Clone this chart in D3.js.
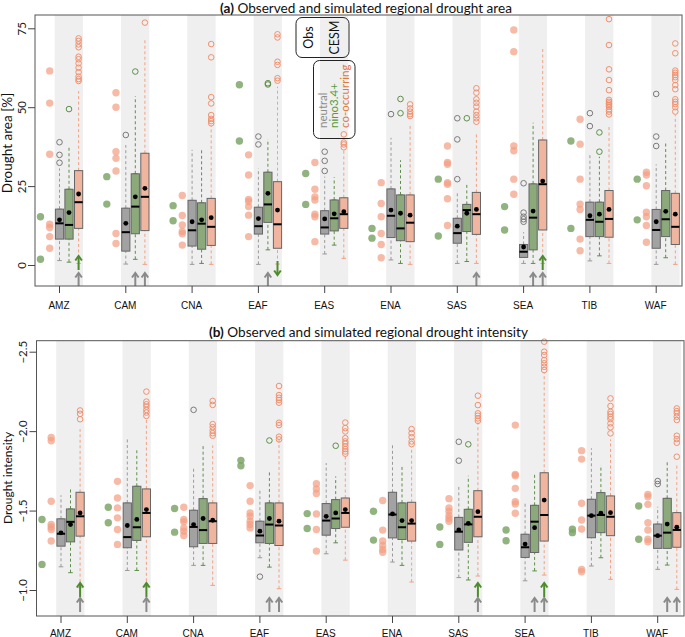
<!DOCTYPE html>
<html><head><meta charset="utf-8">
<script src="https://cdn.jsdelivr.net/npm/d3@7/dist/d3.min.js"></script>
<style>body{margin:0;background:#fff}svg{display:block}</style>
</head><body><svg id="c" width="685" height="637"></svg>
<script>
const regions = ["AMZ","CAM","CNA","EAF","EAS","ENA","SAS","SEA","TIB","WAF"];
const groups = ["neutral","nino","cooc"];
const legendObs = ["Obs","CESM"];
const legendGroups = ["neutral","nino3.4+","co-occurring"];

// ---------- (a) drought area [%] ----------
const areaObsNino = [[15.3,1.8],[28.0,19.3],[18.8,14.0],[57.1,39.3],[29.0,19.2],[11.6,8.5],[27.2,9.2],[18.5,11.1],[39.3,11.6],[27.2,14.3]];
const areaObsCooc = [
 [61.5,51.3,35.1,12.9,11.9,9.0,5.3],[54.6,50.0,35.9,33.8,29.8,10.0,6.8],[22.0,15.7,12.7,10.6,9.9,6.3],
 [34.9,28.5,20.8,20.1,18.5,15.8,9.0],[32.5,24.0,21.6,20.6,16.1,15.3,7.4],[26.1,19.5,15.3,10.0,6.5,2.3],
 [37.7,32.5,31.9,26.1,25.6,21.0,12.5],[74.5,67.6,37.7,36.2,27.2,22.4],[46.2,38.3,27.2,19.3,17.6,8.2,4.5],
 [29.4,28.5,25.1,16.7,15.3,12.5,7.2]];
// CESM box stats: [whiskerLow, q1, median, q3, whiskerHigh, mean]
const areaNeutral = [[1.4,8.2,13.2,17.7,30.6,14.3],[0.3,4.4,10.4,18.0,38.0,13.2],[0.2,6.0,11.0,20.5,36.5,13.7],
 [0.2,9.8,12.3,18.3,30.6,14.7],[3.5,9.8,11.9,17.2,28.0,14.6],[1.6,8.7,15.6,24.1,40.3,17.4],[0.5,6.9,10.1,14.8,23.0,12.3],
 [0.5,2.4,4.2,6.5,10.4,5.7],[1.3,9.0,14.3,19.9,35.1,15.6],[0.2,5.3,11.1,17.6,31.9,13.7]];
const areaNino = [[0.9,8.2,12.7,24.0,37.5,16.6],[1.8,9.9,18.5,28.9,53.5,21.6],[0.5,5.0,13.1,19.7,36.5,14.3],
 [4.8,13.5,19.2,29.4,39.9,22.7],[6.3,10.8,14.8,20.6,27.8,16.2],[0.5,7.7,11.6,22.2,33.2,16.4],[1.1,10.6,17.4,19.2,25.6,16.4],
 [0.5,4.8,15.0,25.7,45.1,17.1],[2.9,9.0,13.7,19.9,34.3,16.1],[2.3,9.0,14.5,23.6,39.3,17.0]];
const areaCooc = [[0.5,11.6,19.9,29.9,55.1,22.5],[0.2,10.9,21.6,35.4,71.5,24.3],[0.2,6.2,12.1,21.1,44.0,15.0],
 [0.3,5.3,12.9,26.4,56.5,17.4],[2.1,11.6,16.1,21.3,36.5,16.9],[0.2,7.4,13.4,22.2,44.4,15.8],[0.5,9.7,16.1,23.0,41.7,17.6],
 [0.5,11.1,25.6,39.6,68.7,26.6],[0.5,8.8,14.6,23.6,43.8,17.6],[0.2,6.5,12.1,22.7,47.5,16.1]];
const areaNeutralOut = [[38.9,34.9,32.4],[41.2],[],[40.7,38.2],[35.9,33.0,29.8],[47.8],[46.5,39.8,27.2],[25.9,16.6,15.3,14.5,13.7],[48.1,44.0],[54.2,40.7,37.7]];
const areaNinoOut = [[49.4],[61.3],[],[57.6,57.2],[],[52.6,48.1],[46.5],[],[42.0,35.9],[]];
const areaCoocOut = [
 [71.8,71.0,69.9,69.0,66.0,65.2,63.9,62.5,61.1,59.7,58.9,58.3],[76.8],[70.0,65.8,53.2,51.2,47.5,46.3,45.6,44.9],
 [73.1,72.1,64.4,63.4,59.2,58.4],[41.4,38.8,38.2,37.3],[50.9,49.6,48.6,47.8,47.2],
 [56.0,54.6,52.5,51.4,50.2,48.6,47.5,46.5,45.4],[],
 [77.9,69.7,62.0,58.6,55.4,52.3,51.7,51.2,50.7,50.2,49.3,48.6,47.7],
 [70.2,67.1,61.6,60.9,60.2,59.5,58.6,57.0,55.7,52.5,51.7,51.0,50.0,48.6]];
// significance arrows: [region, box group, kind, direction]
const areaArrows = [["AMZ","cooc","gray","up"],["AMZ","cooc","green","up"],["CAM","nino","gray","up"],["CAM","cooc","gray","up"],
 ["EAF","nino","gray","up"],["EAF","cooc","green","down"],["SAS","cooc","gray","up"],
 ["SEA","nino","gray","up"],["SEA","cooc","gray","up"],["SEA","cooc","green","up"]];

// ---------- (b) drought intensity ----------
const intObsNino = [[-1.444,-1.161],[-1.521,-1.423],[-1.513,-1.364],[-1.816,-1.782],[-1.481,-1.387],[-1.496,-1.314],[-1.397,-1.287],[-1.378,-1.310],[-1.382,-1.361],[-1.529,-1.319]];
const intObsCooc = [
 [-1.960,-1.939,-1.559,-1.412,-1.397,-1.381,-1.308],[-1.684,-1.579,-1.517,-1.454,-1.381,-1.287],[-1.521,-1.444,-1.429,-1.391,-1.370,-1.343],
 [-1.657,-1.559,-1.485,-1.464,-1.433,-1.412,-1.391],[-1.669,-1.636,-1.607,-1.479,-1.381,-1.245],[-1.563,-1.377,-1.308,-1.280,-1.255,-1.238],
 [-1.575,-1.517,-1.496,-1.469,-1.450,-1.433],[-2.038,-1.728,-1.719,-1.640,-1.556,-1.541,-1.483],[-1.877,-1.824,-1.546,-1.441,-1.384,-1.130,-1.115],
 [-1.602,-1.587,-1.539,-1.424,-1.378,-1.319,-1.304]];
const intNeutral = [[-1.146,-1.276,-1.354,-1.448,-1.596,-1.360],[-1.123,-1.266,-1.333,-1.548,-1.952,-1.406],[-1.155,-1.272,-1.397,-1.502,-1.768,-1.412],
 [-1.203,-1.297,-1.343,-1.433,-1.632,-1.370],[-1.228,-1.345,-1.437,-1.544,-1.799,-1.464],[-1.176,-1.328,-1.475,-1.615,-1.918,-1.479],
 [-1.078,-1.252,-1.367,-1.457,-1.654,-1.378],[-1.058,-1.205,-1.269,-1.351,-1.556,-1.289],[-1.151,-1.329,-1.468,-1.571,-1.892,-1.468],
 [-1.130,-1.262,-1.342,-1.415,-1.524,-1.342]];
const intNino = [[-1.109,-1.303,-1.429,-1.510,-1.642,-1.412],[-1.123,-1.312,-1.395,-1.653,-1.879,-1.444],[-1.155,-1.293,-1.377,-1.575,-1.910,-1.450],
 [-1.144,-1.293,-1.412,-1.548,-1.751,-1.450],[-1.297,-1.387,-1.450,-1.569,-1.715,-1.485],[-1.155,-1.318,-1.395,-1.548,-1.785,-1.437],
 [-1.063,-1.300,-1.413,-1.508,-1.719,-1.420],[-1.120,-1.236,-1.430,-1.533,-1.734,-1.392],[-1.203,-1.361,-1.472,-1.613,-1.787,-1.483],
 [-1.157,-1.262,-1.361,-1.577,-1.804,-1.415]];
const intCooc = [[-1.015,-1.339,-1.464,-1.615,-2.013,-1.485],[-1.020,-1.335,-1.485,-1.636,-2.075,-1.506],[-1.029,-1.293,-1.433,-1.548,-1.910,-1.439],
 [-1.008,-1.280,-1.406,-1.548,-1.960,-1.433],[-1.188,-1.395,-1.485,-1.579,-1.840,-1.506],[-1.050,-1.308,-1.418,-1.552,-1.900,-1.437],
 [-1.088,-1.335,-1.461,-1.625,-2.055,-1.493],[-1.094,-1.308,-1.472,-1.738,-2.370,-1.566],[-1.067,-1.342,-1.461,-1.592,-1.948,-1.487],
 [-1.004,-1.269,-1.378,-1.487,-1.797,-1.395]];
const intNeutralOut = [[],[],[-2.134],[-1.084],[],[],[-1.933,-1.814],[],[],[-1.686,-1.667]];
const intNinoOut = [[],[],[],[-1.941],[-1.908],[],[-1.917],[],[],[]];
const intCoocOut = [[-2.130,-2.109,-2.075],[-2.249,-2.186,-2.169,-2.155,-2.134,-2.117,-2.096],[-2.190,-2.165,-2.044,-2.025,-2.004,-1.987,-1.971],
 [-2.284,-2.227,-2.210,-2.196,-2.179,-2.053,-2.038,-1.965,-1.948],[-2.054,-2.019,-1.998,-1.956,-1.935,-1.921,-1.904,-1.887,-1.872,-1.858],
 [-2.013,-1.987,-1.962,-1.935,-1.918],[-2.223,-2.164,-2.112,-2.097,-2.080,-2.065],[-2.563,-2.500,-2.479,-2.447,-2.427,-2.405,-2.385],
 [-2.206,-2.158,-2.122,-2.108,-2.091,-2.076,-2.049,-2.024,-1.986],[-2.143,-2.126,-2.112,-2.091,-2.070,-1.971,-1.950,-1.927,-1.839]];
const intArrows = [["AMZ","cooc","green","up"],["AMZ","cooc","gray","up"],["CAM","cooc","green","up"],["CAM","cooc","gray","up"],
 ["EAF","nino","gray","up"],["EAF","cooc","gray","up"],["SAS","cooc","green","up"],["SAS","cooc","gray","up"],
 ["SEA","nino","gray","up"],["SEA","cooc","gray","up"],["SEA","cooc","green","up"],["WAF","nino","gray","up"],["WAF","cooc","gray","up"]];

// ---------- styling ----------
const C = {
  band:"#efefef",
  fill:{neutral:"#a2a2a2", nino:"#8ca97b", cooc:"#f0b59f"},
  whisk:{neutral:"#9a9a9a", nino:"#5e8f48", cooc:"#f2a283"},
  out:{neutral:"#7a7a7a", nino:"#5e8f48", cooc:"#f0916f"},
  obsNino:"#7da66a", obsCooc:"#f3a083",
  arrow:{gray:"#8a8a8a", green:"#4e8b2c"}
};
const offs = {obsNino:-18.5, obsCooc:-9.3, neutral:0.5, nino:10, cooc:19.6};
const svg = d3.select("#c");

function panel(o){
  const g = svg.append("g");
  const x = d3.scalePoint().domain(regions).range(o.xr);
  const y = d3.scaleLinear().domain(o.yd).range(o.yr);
  const P = o.plot;
  g.selectAll(".band").data(regions).join("rect")
    .attr("x", d=>x(d)-4.3).attr("y", P.t)
    .attr("width", d=>Math.min(28.3, P.r - (x(d)-4.3))).attr("height", P.b-P.t)
    .attr("fill", C.band);
  const stats = {neutral:o.neutral, nino:o.nino, cooc:o.cooc};
  const outs = {neutral:o.neutralOut, nino:o.ninoOut, cooc:o.coocOut};
  regions.forEach((r,i)=>{
    const cx0 = x(r);
    o.obsCooc[i].forEach(v=>g.append("circle").attr("cx",cx0+offs.obsCooc).attr("cy",y(v)).attr("r",3.7)
      .attr("fill",C.obsCooc).attr("fill-opacity",0.72));
    o.obsNino[i].forEach(v=>g.append("circle").attr("cx",cx0+offs.obsNino).attr("cy",y(v)).attr("r",3.7)
      .attr("fill",C.obsNino).attr("fill-opacity",0.85));
    groups.forEach(k=>{
      const s = stats[k][i], cx = cx0+offs[k], hw=4.1;
      [[s[0],s[1]],[s[3],s[4]]].forEach(([a,b])=>{
        g.append("line").attr("x1",cx).attr("x2",cx).attr("y1",y(a)).attr("y2",y(b))
          .attr("stroke",C.whisk[k]).attr("stroke-dasharray","3,2.5").attr("stroke-width",1);
        g.append("line").attr("x1",cx-2.3).attr("x2",cx+2.3).attr("y1",y(a)).attr("y2",y(a))
          .attr("stroke",C.whisk[k]).attr("stroke-width",1);
      });
      g.append("rect").attr("x",cx-hw).attr("width",2*hw)
        .attr("y",Math.min(y(s[1]),y(s[3]))).attr("height",Math.abs(y(s[1])-y(s[3])))
        .attr("fill",C.fill[k]).attr("stroke","#666").attr("stroke-width",1);
      g.append("line").attr("x1",cx-hw).attr("x2",cx+hw).attr("y1",y(s[2])).attr("y2",y(s[2]))
        .attr("stroke","#000").attr("stroke-width",2);
      g.append("circle").attr("cx",cx).attr("cy",y(s[5])).attr("r",2.4).attr("fill","#000");
      outs[k][i].forEach(v=>g.append("circle").attr("cx",cx).attr("cy",y(v)).attr("r",2.8)
        .attr("fill","none").attr("stroke",C.out[k]).attr("stroke-width",1));
    });
  });
  o.arrows.forEach(([r,k,kind,dir])=>{
    const cx = x(r)+offs[k];
    const row = o.arrowRows[kind];
    let y0 = row[0], y1 = row[1];
    if(dir==="down"){ y0 = row[1]+5; y1 = row[0]+5; }
    const s = y1<y0 ? 1 : -1;
    g.append("line").attr("x1",cx).attr("x2",cx).attr("y1",y0).attr("y2",y1)
      .attr("stroke",C.arrow[kind]).attr("stroke-width",2);
    g.append("path").attr("d",`M${cx-3.3},${y1+4.5*s}L${cx},${y1}L${cx+3.3},${y1+4.5*s}`)
      .attr("fill","none").attr("stroke",C.arrow[kind]).attr("stroke-width",2);
  });
  g.append("rect").attr("x",P.l).attr("y",P.t).attr("width",P.r-P.l).attr("height",P.b-P.t)
    .attr("fill","none").attr("stroke","#555").attr("stroke-width",1);
  const xa = g.append("g").attr("transform",`translate(0,${P.b})`)
    .call(d3.axisBottom(x).tickSize(7).tickSizeOuter(0).tickPadding(0));
  xa.select(".domain").remove();
  xa.selectAll("line").attr("stroke","#444");
  xa.selectAll("text").remove();
  g.selectAll(".xl").data(regions).join("text").attr("x",d=>x(d)).attr("y",o.xlY)
    .attr("text-anchor","middle").attr("font-family","'Liberation Sans',Arial,sans-serif").attr("font-size",10)
    .attr("fill","#111").text(d=>d);
  const ya = g.append("g").attr("transform",`translate(${P.l},0)`)
    .call(d3.axisLeft(y).tickValues(o.yticks).tickSize(7).tickFormat(o.fmt));
  ya.select(".domain").remove();
  ya.selectAll("line").attr("stroke","#444");
  ya.selectAll("text").attr("x",0).attr("y",0).attr("dy","0.36em")
    .attr("transform","translate(-13.5,0) rotate(-90)").attr("text-anchor","middle")
    .attr("font-family","Lato,sans-serif").attr("font-size",11.5).attr("fill","#222");
  g.append("text").attr("transform",`translate(${o.ylX},${o.ylY}) rotate(-90)`).attr("text-anchor","middle")
    .attr("font-family","Lato,sans-serif").attr("font-size",o.ylFs).attr("fill","#111").text(o.ylabel);
  const t = g.append("text").attr("x",o.tX).attr("y",o.tY).attr("text-anchor","middle")
    .attr("font-family","Lato,sans-serif").attr("font-size",13.6).attr("fill","#111");
  t.append("tspan").attr("font-weight","bold").text(o.tag);
  t.append("tspan").text(" "+o.title);
}

panel({xr:[59,655.7], yd:[0,75], yr:[265,28.3], plot:{l:35,r:682,t:15,b:286},
  obsNino:areaObsNino, obsCooc:areaObsCooc, neutral:areaNeutral, nino:areaNino, cooc:areaCooc,
  neutralOut:areaNeutralOut, ninoOut:areaNinoOut, coocOut:areaCoocOut, arrows:areaArrows,
  arrowRows:{gray:[286,273], green:[270,256]},
  xlY:309, yticks:[0,25,50,75], fmt:d3.format("d"), ylabel:"Drought area [%]", ylX:12, ylY:143, ylFs:13.5,
  tag:"(a)", title:"Observed and simulated regional drought area", tX:366, tY:12.5});

panel({xr:[60.5,657.2], yd:[-1,-2.5], yr:[590,351.7], plot:{l:36.5,r:684,t:340.7,b:616},
  obsNino:intObsNino, obsCooc:intObsCooc, neutral:intNeutral, nino:intNino, cooc:intCooc,
  neutralOut:intNeutralOut, ninoOut:intNinoOut, coocOut:intCoocOut, arrows:intArrows,
  arrowRows:{gray:[612,598], green:[597,583]},
  xlY:636.5, yticks:[-2.5,-2,-1.5,-1], fmt:d3.format(".1f"), ylabel:"Drought intensity", ylX:12, ylY:478, ylFs:12,
  tag:"(b)", title:"Observed and simulated regional drought intensity", tX:368.5, tY:336.5});

// legend
const lg = svg.append("g");
lg.append("rect").attr("x",296).attr("y",17.5).attr("width",53).attr("height",40).attr("rx",6)
  .attr("fill","none").attr("stroke","#222").attr("stroke-width",1);
[[308.5,legendObs[0]],[334.5,legendObs[1]]].forEach(([xx,tx])=>{
  lg.append("text").attr("transform",`translate(${xx+4.5},37.5) rotate(-90)`).attr("text-anchor","middle")
    .attr("font-family","Lato,sans-serif").attr("font-size",12.5).attr("fill","#111").text(tx);
});
lg.append("rect").attr("x",313.5).attr("y",60.5).attr("width",41.5).attr("height",78).attr("rx",6)
  .attr("fill","none").attr("stroke","#222").attr("stroke-width",1);
const lgCol = ["#8c8c8c","#5a9a3c","#e07a3c"];
legendGroups.forEach((tx,i)=>{
  lg.append("text").attr("transform",`translate(${327+i*11},128) rotate(-90)`).attr("text-anchor","start")
    .attr("font-family","Lato,sans-serif").attr("font-size",11.5).attr("fill",lgCol[i]).text(tx);
});
</script></body></html>
